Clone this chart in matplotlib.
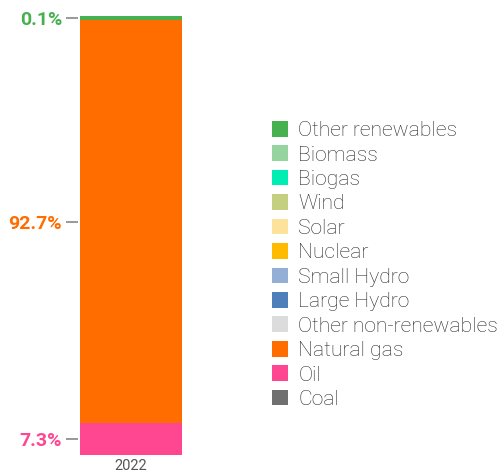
import matplotlib.pyplot as plt
from matplotlib.patches import Patch
from matplotlib.font_manager import FontProperties

plt.rcParams['font.family'] = ['Roboto', 'DejaVu Sans']

# data for the single stacked bar (bottom to top)
year = '2022'
sources = ['Coal', 'Oil', 'Natural gas', 'Other non-renewables', 'Large Hydro',
           'Small Hydro', 'Nuclear', 'Solar', 'Wind', 'Biogas', 'Biomass',
           'Other renewables']
shares = [0.0, 7.3, 92.7, 0.0, 0.0, 0.0, 0.0, 0.0, 0.0, 0.0, 0.0, 0.1]
colors = ['#707070', '#ff4691', '#ff6c00', '#dcdcdc', '#4f7fbb', '#93afd6',
          '#ffbb00', '#fde29b', '#c4cf80', '#00eeb3', '#96d49f', '#47b04f']

min_len = 0.9  # smallest drawn segment so tiny shares stay visible

fig = plt.figure(figsize=(5, 4.75), dpi=100)
ax = fig.add_axes([78 / 500, 20 / 475, 106 / 500, 439 / 475])

bottom = 0
ticks, tick_labels, tick_colors = [], [], []
for name, val, col in zip(sources, shares, colors):
    if val <= 0:
        continue
    h = max(val, min_len)
    ax.bar(0, h, bottom=bottom, width=0.962, color=col, linewidth=0)
    ticks.append(bottom + h / 2)
    tick_labels.append(f'{val:.1f}%')
    tick_colors.append(col)
    bottom += h

ax.set_xlim(-0.5, 0.5)
ax.set_ylim(0, bottom)
ax.set_xticks([0])
ax.set_xticklabels([year], color='#555555', fontsize=10.5)
ax.tick_params(axis='x', length=0, pad=3)
ax.set_yticks(ticks)
ax.set_yticklabels(tick_labels, fontsize=14, fontweight='bold')
for lab, col in zip(ax.get_yticklabels(), tick_colors):
    lab.set_color(col)
ax.tick_params(axis='y', length=8.5, width=1.2, color='#888888', pad=3)
for s in ax.spines.values():
    s.set_visible(False)

# legend, top to bottom
handles = [Patch(facecolor=c, edgecolor='none', label=n)
           for n, c in zip(sources[::-1], colors[::-1])]
leg_font = FontProperties(family=['Roboto', 'DejaVu Sans'], weight='light', size=15.2)
fig.legend(handles=handles, loc='upper left', bbox_to_anchor=(272 / 500, 1 - 121 / 475),
           frameon=False, prop=leg_font, handlelength=0.76, handleheight=0.76,
           handletextpad=0.48, labelspacing=0.25, labelcolor='#2a2a2a',
           borderaxespad=0, borderpad=0)

fig.savefig('out.png', dpi=100)
